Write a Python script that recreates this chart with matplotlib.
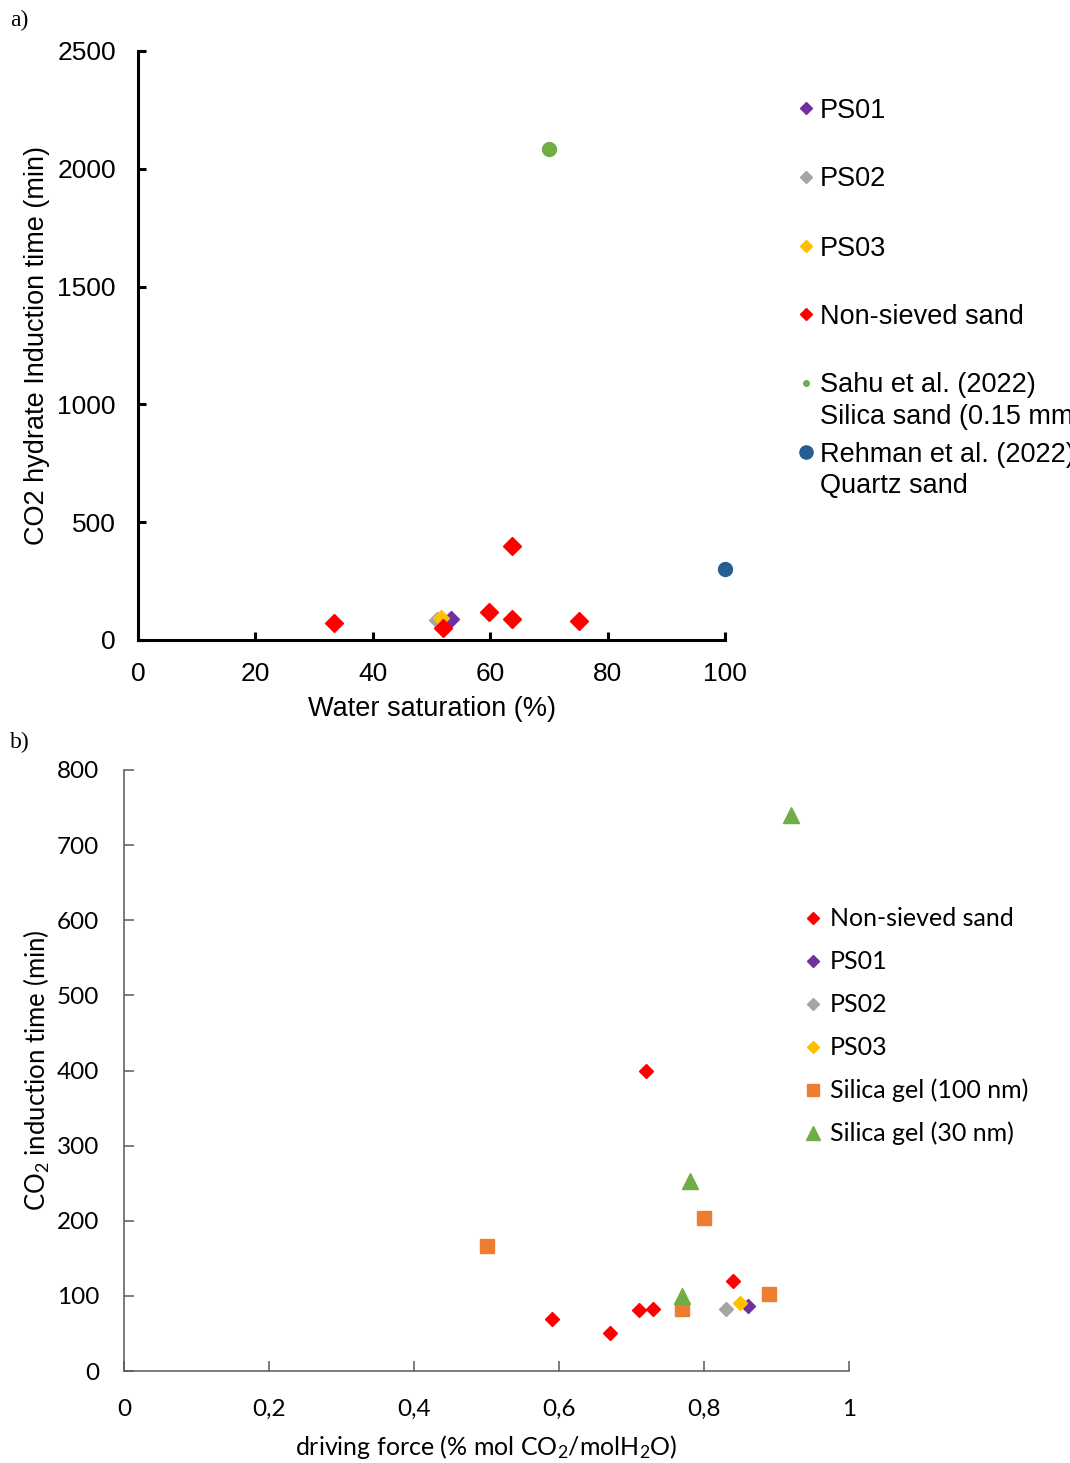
import matplotlib
matplotlib.use("Agg")
import matplotlib.pyplot as plt
from matplotlib.lines import Line2D
from matplotlib.ticker import FuncFormatter

plt.rcParams['mathtext.default'] = 'regular'

# ---- panel a) data: water saturation (%) vs induction time (min)
ps01_sat = [53.4]
ps01_time = [89]
ps02_sat = [51.0]
ps02_time = [85]
ps03_sat = [51.7]
ps03_time = [93]
nonsieved_sat = [33.4, 52.0, 59.8, 63.7, 63.7, 75.1]
nonsieved_time = [71, 50, 118, 399, 88, 81]
sahu_sat = [70.0]
sahu_time = [2084]
rehman_sat = [100.0]
rehman_time = [301]

# ---- panel b) data: driving force vs induction time (min)
b_nonsieved_df = [0.59, 0.67, 0.71, 0.73, 0.72, 0.84]
b_nonsieved_time = [69, 50, 81, 82, 400, 120]
b_ps01_df = [0.86]
b_ps01_time = [87]
b_ps02_df = [0.83]
b_ps02_time = [82]
b_ps03_df = [0.85]
b_ps03_time = [91]
gel100_df = [0.50, 0.77, 0.80, 0.89]
gel100_time = [166, 82, 203, 103]
gel30_df = [0.77, 0.78, 0.92]
gel30_time = [100, 253, 740]

W, H = 1070, 1463
RED = "#FF0000"
PURPLE = "#7030A0"
GREY = "#A5A5A5"
YELLOW = "#FFC000"
GREEN = "#70AD47"
BLUE = "#255E91"
ORANGE = "#ED7D31"

fig = plt.figure(figsize=(W / 100, H / 100), dpi=100)


def fx(px):
    return px / W


def fy(py):
    return 1 - py / H


def legend_entry(xm, xt, y, marker, color, ms, label, font, size, step=31, base=9.5):
    # marker centred on the first text line, each line placed by its baseline
    fig.add_artist(Line2D([fx(xm)], [fy(y)], marker=marker, color=color, ms=ms,
                          mec=color, linestyle="none", transform=fig.transFigure))
    for i, line in enumerate(label.split("\n")):
        fig.text(fx(xt), fy(y + base + i * step), line, family=font, fontsize=size,
                 ha="left", va="baseline")


# ================= panel a)
fa = "Liberation Sans"
ax1 = fig.add_axes([fx(138), fy(640), fx(725) - fx(138), fy(51) - fy(640)])
ax1.plot(ps01_sat, ps01_time, "D", color=PURPLE, ms=8.5)
ax1.plot(ps02_sat, ps02_time, "D", color=GREY, ms=8.5)
ax1.plot(ps03_sat, ps03_time, "D", color=YELLOW, ms=8.5)
ax1.plot(nonsieved_sat, nonsieved_time, "D", color=RED, ms=9)
ax1.plot(sahu_sat, sahu_time, "o", color=GREEN, ms=10, clip_on=False)
ax1.plot(rehman_sat, rehman_time, "o", color=BLUE, ms=10, clip_on=False)
ax1.set_xlim(0, 100)
ax1.set_ylim(0, 2500)
ax1.set_xticks(range(0, 101, 20))
ax1.set_yticks(range(0, 2501, 500))
for s in ["top", "right"]:
    ax1.spines[s].set_visible(False)
for s in ["left", "bottom"]:
    ax1.spines[s].set_linewidth(2.2)
ax1.tick_params(direction="in", length=6, width=2.2, labelsize=19)
ax1.tick_params(axis="x", pad=16)
ax1.tick_params(axis="y", pad=16)
for lab in ax1.get_xticklabels() + ax1.get_yticklabels():
    lab.set_family(fa)
ax1.set_xlabel("Water saturation (%)", family=fa, fontsize=19.5, va="center")
ax1.xaxis.set_label_coords(0.5, (640 - 709) / 589)
ax1.set_ylabel("CO2 hydrate Induction time (min)", family=fa, fontsize=19.5, va="center")
ax1.yaxis.set_label_coords((37 - 138) / 587, 0.5)

legend_entry(806, 820, 108, "D", PURPLE, 6.5, "PS01", fa, 19.5)
legend_entry(806, 820, 177, "D", GREY, 6.5, "PS02", fa, 19.5)
legend_entry(806, 820, 246, "D", YELLOW, 6.5, "PS03", fa, 19.5)
legend_entry(806, 820, 314, "D", RED, 6.5, "Non-sieved sand", fa, 19.5)
legend_entry(806, 820, 383, "o", GREEN, 4, "Sahu et al. (2022)\nSilica sand (0.15 mm)", fa, 19.5)
legend_entry(806, 820, 452, "o", BLUE, 9.5, "Rehman et al. (2022)\nQuartz sand", fa, 19.5)

# ================= panel b)
fb = "Lato"
ax2 = fig.add_axes([fx(124), fy(1371), fx(849) - fx(124), fy(770) - fy(1371)])
ax2.plot(b_nonsieved_df, b_nonsieved_time, "D", color=RED, ms=7.5)
ax2.plot(b_ps01_df, b_ps01_time, "D", color=PURPLE, ms=7)
ax2.plot(b_ps02_df, b_ps02_time, "D", color=GREY, ms=7)
ax2.plot(b_ps03_df, b_ps03_time, "D", color=YELLOW, ms=7)
ax2.plot(gel100_df, gel100_time, "s", color=ORANGE, ms=10)
ax2.plot(gel30_df, gel30_time, "^", color=GREEN, ms=11)
ax2.set_xlim(0, 1)
ax2.set_ylim(0, 800)
ax2.set_xticks([0, 0.2, 0.4, 0.6, 0.8, 1])
ax2.set_yticks(range(0, 801, 100))
ax2.xaxis.set_major_formatter(FuncFormatter(lambda v, p: f"{v:g}".replace(".", ",")))
for s in ["top", "right"]:
    ax2.spines[s].set_visible(False)
for s in ["left", "bottom"]:
    ax2.spines[s].set_linewidth(1.1)
    ax2.spines[s].set_color("#595959")
ax2.tick_params(direction="in", length=7, width=1.1, color="#595959", labelsize=17.5)
ax2.tick_params(axis="x", pad=20)
ax2.tick_params(axis="y", pad=18)
for lab in ax2.get_xticklabels() + ax2.get_yticklabels():
    lab.set_family(fb)
ax2.set_xlabel("driving force (% mol CO$_2$/molH$_2$O)", family=fb, fontsize=18, va="center")
ax2.xaxis.set_label_coords(0.5, (1371 - 1447) / 601)
ax2.set_ylabel("CO$_2$ induction time (min)", family=fb, fontsize=18.5, va="center")
ax2.yaxis.set_label_coords((37 - 124) / 725, 0.5)

lb = dict(base=8)
legend_entry(813, 830, 918, "D", RED, 6, "Non-sieved sand", fb, 18, **lb)
legend_entry(813, 830, 961, "D", PURPLE, 6, "PS01", fb, 18, **lb)
legend_entry(813, 830, 1004, "D", GREY, 6, "PS02", fb, 18, **lb)
legend_entry(813, 830, 1047, "D", YELLOW, 6, "PS03", fb, 18, **lb)
legend_entry(813, 830, 1090, "s", ORANGE, 8.5, "Silica gel (100 nm)", fb, 18, **lb)
legend_entry(813, 830, 1133, "^", GREEN, 9.5, "Silica gel (30 nm)", fb, 18, **lb)

# panel letters
fig.text(fx(10), fy(20), "a)", family="Liberation Serif", fontsize=17, va="center")
fig.text(fx(10), fy(742), "b)", family="Liberation Serif", fontsize=17, va="center")

fig.savefig("out.png", dpi=100)
